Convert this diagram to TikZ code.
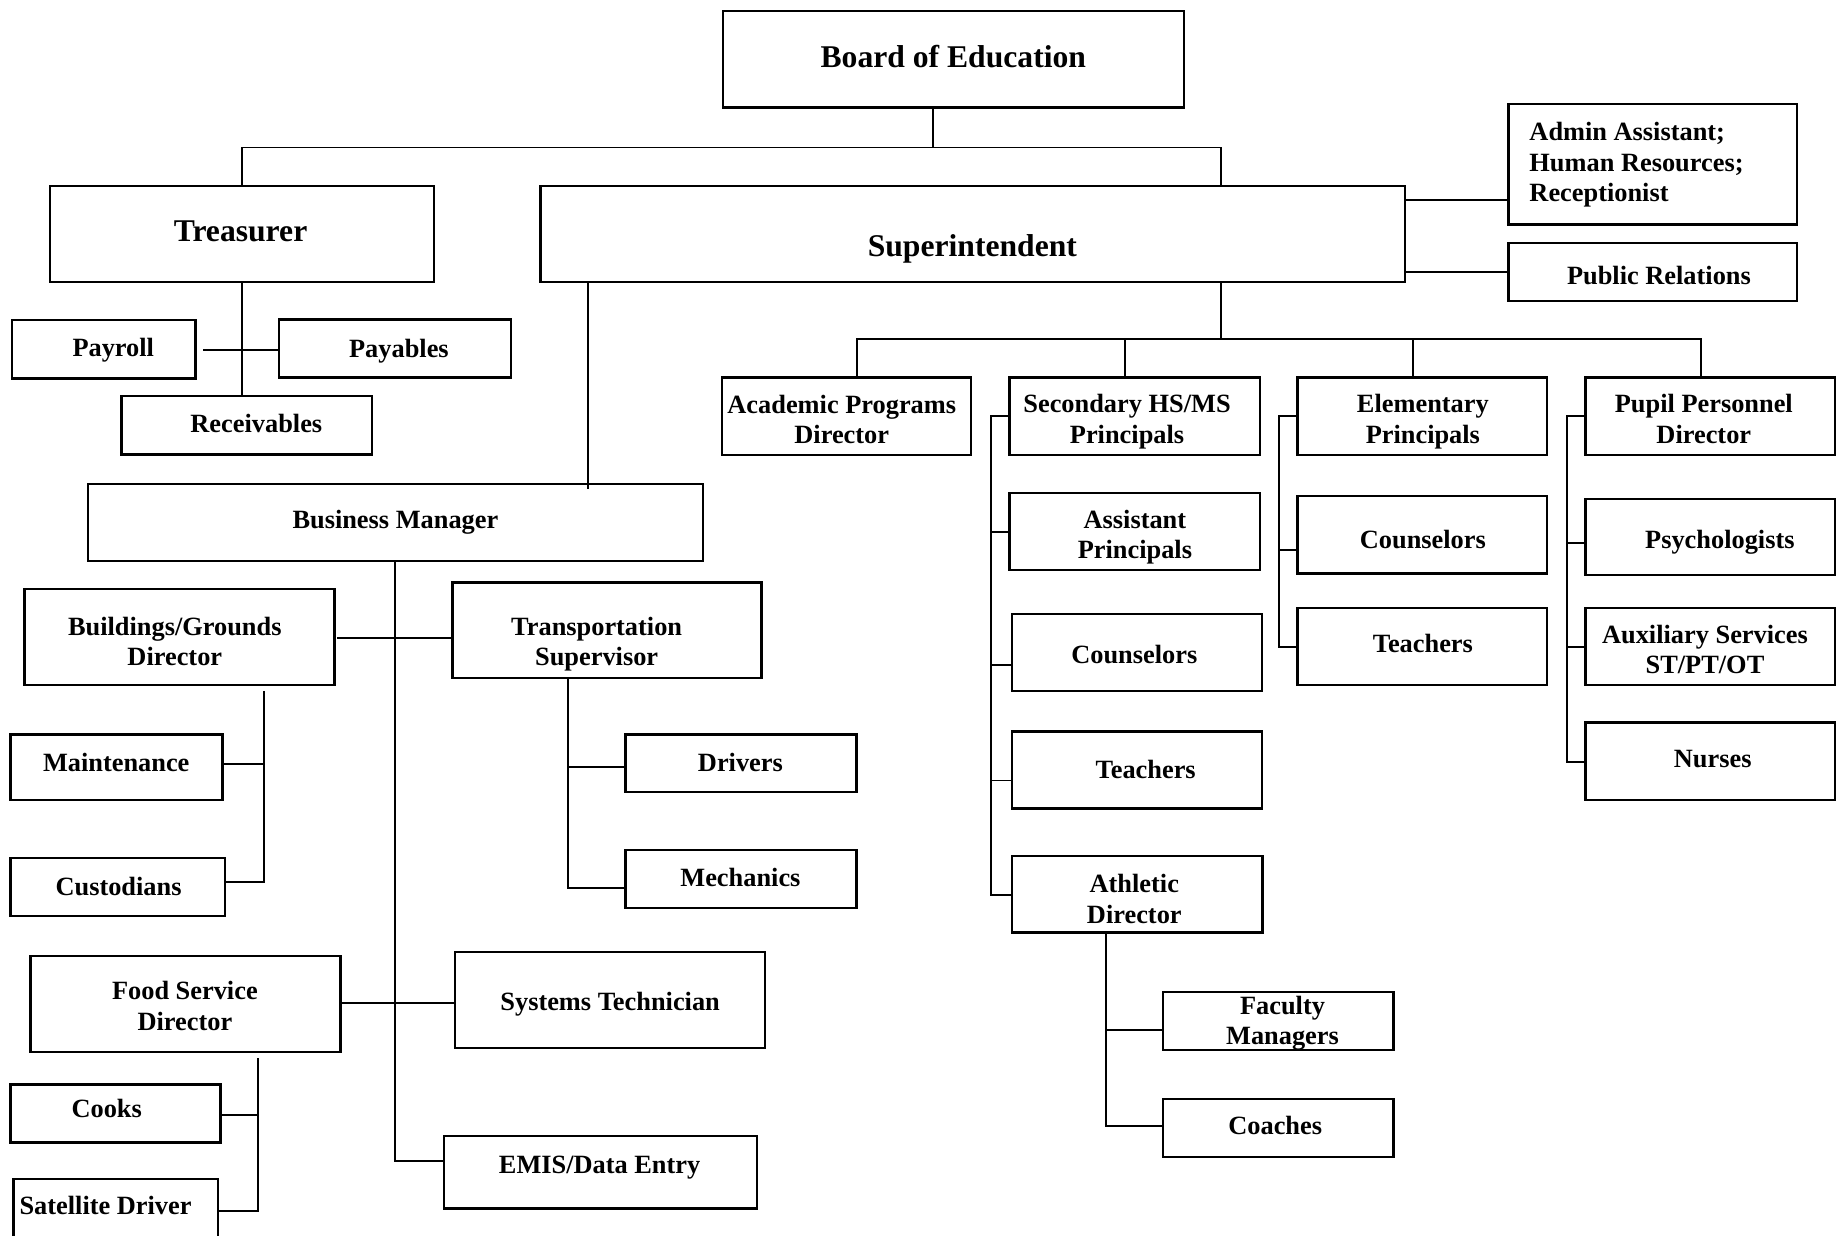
\documentclass[tikz,border=0pt]{standalone}
\usepackage{fontspec}
\setmainfont{Liberation Serif}
\usetikzlibrary{fit}
\begin{document}
\begin{tikzpicture}[x=1bp,y=-1bp,
 box/.style={draw, line width=2bp, inner sep=0pt, outer sep=0pt},
 lbl/.style={font=\fontsize{22.5bp}{26bp}\selectfont\bfseries, align=center, inner sep=0pt, yshift=-2.4bp},
 big/.style={font=\fontsize{27bp}{32bp}\selectfont\bfseries, align=center, inner sep=0pt, yshift=-2.7bp},
 ln/.style={line width=1.7bp}]
\fill[white] (0,0) rectangle (1568,1055);
\useasboundingbox (0,0) rectangle (1568,1055);

% ---------- boxes ----------
\node[box, fit={(617,9.5) (1010.6,91.8)}] (board) {};
\node[box, fit={(42.6,158.6) (370.3,240.6)}] (treas) {};
\node[box, fit={(461.2,158.6) (1199,240.6)}] (supt) {};
\node[box, fit={(1287.5,88.8) (1533.8,191.7)}] (admin) {};
\node[box, fit={(1287.5,207.2) (1533.8,256.8)}] (pr) {};
\node[box, fit={(10,273.4) (166.8,323)}] (payroll) {};
\node[box, fit={(237.9,272.7) (436.2,322.3)}] (payables) {};
\node[box, fit={(103.7,338.2) (317.5,387.8)}] (recv) {};
\node[box, fit={(75,413) (600,479)}] (bm) {};
\node[box, fit={(616,322.3) (829,388.1)}] (acad) {};
\node[box, fit={(861.6,322.3) (1075.3,388.1)}] (sec) {};
\node[box, fit={(1107.4,322.3) (1320.6,388.1)}] (elem) {};
\node[box, fit={(1353.2,322.3) (1566.4,388.1)}] (pupil) {};
\node[box, fit={(861.6,420.9) (1075.3,486.7)}] (asst) {};
\node[box, fit={(1107.4,423.6) (1320.6,489.4)}] (counsE) {};
\node[box, fit={(1353.2,426) (1566.4,491)}] (psych) {};
\node[box, fit={(864,524.2) (1077.3,590)}] (counsS) {};
\node[box, fit={(864,624.3) (1077.3,690)}] (teachS) {};
\node[box, fit={(864,730.6) (1077.5,796)}] (ath) {};
\node[box, fit={(992.7,846.9) (1189.5,896.4)}] (fac) {};
\node[box, fit={(992.7,938.3) (1189.5,987.4)}] (coach) {};
\node[box, fit={(1107.4,519) (1320.6,584.8)}] (teachE) {};
\node[box, fit={(1353.2,519) (1566.4,584.8)}] (aux) {};
\node[box, fit={(1353.2,616.7) (1566.4,682.8)}] (nurse) {};
\node[box, fit={(21,502.9) (285.5,584.8)}] (bld) {};
\node[box, fit={(386.1,497.1) (650,578.9)}] (trans) {};
\node[box, fit={(9,627) (189.8,682.8)}] (maint) {};
\node[box, fit={(9,732.6) (192.3,782.1)}] (cust) {};
\node[box, fit={(533.9,627) (731.2,676.2)}] (drv) {};
\node[box, fit={(533.9,725.7) (731.2,774.9)}] (mech) {};
\node[box, fit={(26,816.1) (290.5,897.8)}] (food) {};
\node[box, fit={(388.6,812.6) (653,894.6)}] (sys) {};
\node[box, fit={(9,925.8) (188.3,975.3)}] (cook) {};
\node[box, fit={(11.5,1006.5) (185.8,1056)}] (sat) {};
\node[box, fit={(379.1,969.8) (646,1031.4)}] (emis) {};

% ---------- texts ----------
\node[big] (board-t) at (813.7,48.9) {Board of Education\strut};
\node[big] (treas-t) at (205.3,197.4) {Treasurer\strut};
\node[big] (supt-t) at (830,209.9) {Superintendent\strut};
\node[lbl, align=left, anchor=west] (admin-t) at (1305.3,138.4) {Admin Assistant;\strut\\Human Resources;\strut\\Receptionist\strut};
\node[lbl] (pr-t) at (1416,235) {Public Relations\strut};
\node[lbl] (payroll-t) at (96.7,297) {Payroll\strut};
\node[lbl] (payables-t) at (340.5,297.7) {Payables\strut};
\node[lbl] (recv-t) at (218.8,361.8) {Receivables\strut};
\node[lbl] (bm-t) at (337.5,443.8) {Business Manager\strut};
\node[lbl] (acad-t) at (718.5,358) {Academic Programs\strut\\Director\strut};
\node[lbl] (sec-t) at (962,357.8) {Secondary HS/MS\strut\\Principals\strut};
\node[lbl] (elem-t) at (1214.5,357.8) {Elementary\strut\\Principals\strut};
\node[lbl] (pupil-t) at (1454.3,357.8) {Pupil Personnel\strut\\Director\strut};
\node[lbl] (asst-t) at (968.7,456.5) {Assistant\strut\\Principals\strut};
\node[lbl] (counsE-t) at (1214.5,460.7) {Counselors\strut};
\node[lbl] (psych-t) at (1468,460.7) {Psychologists\strut};
\node[lbl] (counsS-t) at (968.2,558.8) {Counselors\strut};
\node[lbl] (teachS-t) at (977.9,656.8) {Teachers\strut};
\node[lbl] (ath-t) at (968.2,767.4) {Athletic\strut\\Director\strut};
\node[lbl] (fac-t) at (1094.7,871.3) {Faculty\strut\\Managers\strut};
\node[lbl] (coach-t) at (1088.5,961.1) {Coaches\strut};
\node[lbl] (teachE-t) at (1214.5,549.5) {Teachers\strut};
\node[lbl] (aux-t) at (1455.3,554.5) {Auxiliary Services\strut\\ST/PT/OT\strut};
\node[lbl] (nurse-t) at (1461.9,647.1) {Nurses\strut};
\node[lbl] (bld-t) at (149.2,547.6) {Buildings/Grounds\strut\\Director\strut};
\node[lbl] (trans-t) at (509.3,547.6) {Transportation\strut\\Supervisor\strut};
\node[lbl] (maint-t) at (99.2,650.6) {Maintenance\strut};
\node[lbl] (cust-t) at (101.2,756.9) {Custodians\strut};
\node[lbl] (drv-t) at (632,650.6) {Drivers\strut};
\node[lbl] (mech-t) at (632,749.2) {Mechanics\strut};
\node[lbl] (food-t) at (157.8,858.6) {Food Service\strut\\Director\strut};
\node[lbl] (sys-t) at (520.8,854.8) {Systems Technician\strut};
\node[lbl] (cook-t) at (91.1,946.6) {Cooks\strut};
\node[lbl] (sat-t) at (90.1,1029) {Satellite Driver\strut};
\node[lbl] (emis-t) at (511.8,994.4) {EMIS/Data Entry\strut};

% ---------- connectors ----------
\coordinate (j0) at (796.3,125.9);
\coordinate (j1) at (1042,125.9);
\draw[ln] (board.south -| j0) -- (j0);
\draw[ln] (treas.north) |- (j1) -- (j1 |- supt.north);

\coordinate (a1) at (1199,171.1);
\coordinate (a2) at (1199,232.5);
\draw[ln] (supt.east |- a1) -- (admin.west |- a1);
\draw[ln] (supt.east |- a2) -- (pr.west |- a2);

\draw[ln] (treas.south) -- (treas.south |- recv.north);
\coordinate (p1) at (173.3,298.7);
\draw[ln] (p1) -- (payables.west |- p1);

\coordinate (b0) at (502.3,417.5);
\draw[ln] (b0 |- supt.south) -- (b0);

\coordinate (r0) at (1042,289.6);
\coordinate (rL) at (731.2,289.6);
\coordinate (rR) at (1451.7,289.6);
\coordinate (r2) at (960.5,289.6);
\coordinate (r3) at (1205.8,289.6);
\draw[ln] (r0 |- supt.south) -- (r0);
\draw[ln] (rL |- acad.north) -- (rL) -- (rR) -- (rR |- pupil.north);
\draw[ln] (r2) -- (r2 |- sec.north);
\draw[ln] (r3) -- (r3 |- elem.north);

% secondary
\coordinate (sa) at (845.7,355.4);
\coordinate (sb) at (845.7,454);
\coordinate (sc) at (845.7,567.5);
\coordinate (sd) at (845.7,666.2);
\coordinate (se) at (845.7,764.1);
\draw[ln] (sa -| sec.west) -- (sa) -- (se) -- (se -| ath.west);
\draw[ln] (sb) -- (sb -| asst.west);
\draw[ln] (sc) -- (sc -| counsS.west);
\draw[ln] (sd) -- (sd -| teachS.west);

% elementary
\coordinate (ea) at (1091.6,355.4);
\coordinate (eb) at (1091.6,469.8);
\coordinate (ec) at (1091.6,551.9);
\draw[ln] (ea -| elem.west) -- (ea) -- (ec) -- (ec -| teachE.west);
\draw[ln] (eb) -- (eb -| counsE.west);

% pupil personnel
\coordinate (pa) at (1337.9,355.4);
\coordinate (pb) at (1337.9,463.4);
\coordinate (pc) at (1337.9,551.9);
\coordinate (pd) at (1337.9,650.6);
\draw[ln] (pa -| pupil.west) -- (pa) -- (pd) -- (pd -| nurse.west);
\draw[ln] (pb) -- (pb -| psych.west);
\draw[ln] (pc) -- (pc -| aux.west);

% athletic
\coordinate (ta) at (944.2,879.1);
\coordinate (tb) at (944.2,961.1);
\draw[ln] (ath.south -| ta) -- (tb) -- (tb -| coach.west);
\draw[ln] (ta) -- (ta -| fac.west);

% business manager
\coordinate (m0) at (337.5,990.9);
\draw[ln] (bm.south -| m0) -- (m0) -- (m0 -| emis.west);
\coordinate (h1) at (288,544.3);
\draw[ln] (h1) -- (h1 -| trans.west);
\coordinate (h2) at (290.5,855.9);
\draw[ln] (food.east |- h2) -- (h2 -| sys.west);

% buildings
\coordinate (g0) at (225.4,589.7);
\coordinate (g1) at (225.4,652);
\coordinate (g2) at (225.4,752.7);
\draw[ln] (g0) -- (g2) -- (g2 -| cust.east);
\draw[ln] (g1) -- (g1 -| maint.east);

% transportation
\coordinate (v1) at (484.8,654.4);
\coordinate (v2) at (484.8,758.2);
\draw[ln] (trans.south -| v1) -- (v2) -- (v2 -| mech.west);
\draw[ln] (v1) -- (v1 -| drv.west);

% food service
\coordinate (f0) at (220.4,903.3);
\coordinate (f1) at (220.4,952.1);
\coordinate (f2) at (220.4,1033.8);
\draw[ln] (f0) -- (f2) -- (f2 -| sat.east);
\draw[ln] (f1) -- (f1 -| cook.east);
\end{tikzpicture}
\end{document}
